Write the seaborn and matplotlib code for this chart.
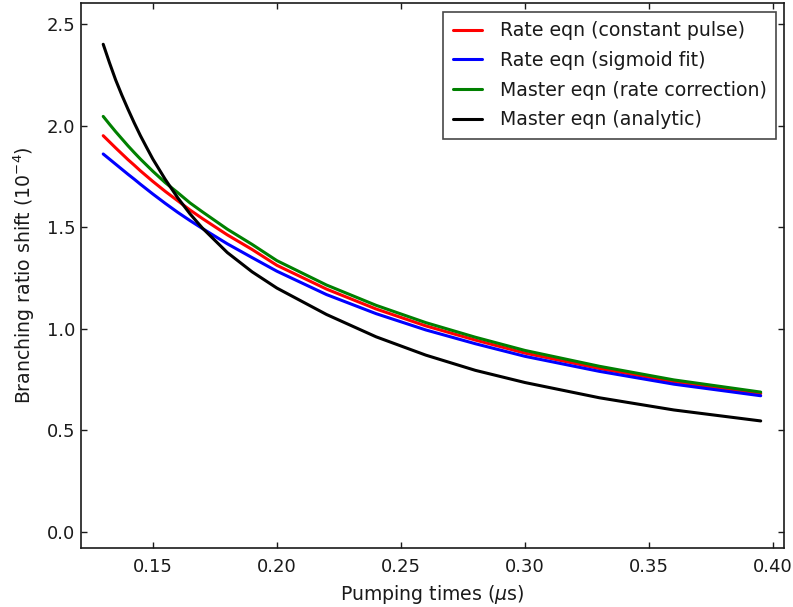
import numpy as np
import pandas as pd
import matplotlib
matplotlib.use("Agg")
import matplotlib.pyplot as plt
import seaborn as sns

# Pumping times (µs)
times = [0.13, 0.1325, 0.135, 0.1375, 0.14, 0.1425, 0.145, 0.1475, 0.15, 0.155,
         0.16, 0.165, 0.17, 0.18, 0.19, 0.20, 0.22, 0.24, 0.26, 0.28,
         0.30, 0.33, 0.36, 0.395]

rate_constant = [1.950, 1.920, 1.890, 1.861, 1.832, 1.805, 1.777, 1.751, 1.725, 1.676,
                 1.630, 1.584, 1.542, 1.462, 1.390, 1.312, 1.195, 1.097, 1.014, 0.944,
                 0.880, 0.804, 0.739, 0.681]
rate_sigmoid = [1.860, 1.835, 1.810, 1.785, 1.760, 1.736, 1.711, 1.687, 1.663, 1.617,
                1.573, 1.532, 1.493, 1.418, 1.350, 1.283, 1.168, 1.074, 0.994, 0.926,
                0.864, 0.790, 0.727, 0.670]
master_rate = [2.045, 2.007, 1.970, 1.935, 1.900, 1.867, 1.835, 1.805, 1.775, 1.719,
               1.670, 1.619, 1.575, 1.490, 1.415, 1.335, 1.215, 1.115, 1.030, 0.958,
               0.893, 0.815, 0.748, 0.688]
master_analytic = [2.400, 2.310, 2.225, 2.150, 2.080, 2.013, 1.950, 1.892, 1.835, 1.735,
                   1.645, 1.565, 1.495, 1.375, 1.280, 1.200, 1.070, 0.960, 0.870, 0.795,
                   0.735, 0.660, 0.600, 0.546]

labels = ["Rate eqn (constant pulse)", "Rate eqn (sigmoid fit)",
          "Master eqn (rate correction)", "Master eqn (analytic)"]
colors = ["#ff0000", "#0000ff", "#008000", "#000000"]
series = [rate_constant, rate_sigmoid, master_rate, master_analytic]

frames = []
for lab, vals in zip(labels, series):
    frames.append(pd.DataFrame({"t": times, "shift": vals, "model": lab}))
df = pd.concat(frames, ignore_index=True)

sns.set_style("white")
plt.rcParams["font.family"] = ["DejaVu Sans"]
plt.rcParams.update({
    "xtick.direction": "in", "ytick.direction": "in",
    "xtick.top": True, "ytick.right": True,
    "xtick.bottom": True, "ytick.left": True,
    "text.color": "#1a1a1a", "axes.labelcolor": "#1a1a1a",
})

fig = plt.figure(figsize=(7.93, 6.07), dpi=100)
ax = fig.add_axes([0.102, 0.097, 0.887, 0.898])

sns.lineplot(data=df, x="t", y="shift", hue="model", hue_order=labels,
             palette=dict(zip(labels, colors)), linewidth=2.2, ax=ax,
             sort=False, estimator=None)

ax.set_xlim(0.121, 0.4045)
ax.set_ylim(-0.08, 2.603)
ax.set_xticks([0.15, 0.20, 0.25, 0.30, 0.35, 0.40])
ax.set_xticklabels(["0.15", "0.20", "0.25", "0.30", "0.35", "0.40"])
ax.set_yticks([0.0, 0.5, 1.0, 1.5, 2.0, 2.5])
ax.set_yticklabels(["0.0", "0.5", "1.0", "1.5", "2.0", "2.5"])
ax.tick_params(labelsize=13, colors="#1a1a1a", width=1, length=4.5)
ax.tick_params(axis="x", pad=7)
ax.tick_params(axis="y", pad=4)
for s in ax.spines.values():
    s.set_color("#1a1a1a")
    s.set_linewidth(1.2)

ax.set_xlabel(r"Pumping times ($\mu$s)", fontsize=13.6, labelpad=5)
ax.set_ylabel(r"Branching ratio shift ($10^{-4}$)", fontsize=13.6, labelpad=7)

leg = ax.legend(loc="upper right", fontsize=13.6, frameon=True, fancybox=False,
                edgecolor="#1a1a1a", handlelength=1.55, handletextpad=0.95,
                borderpad=0.5, labelspacing=0.56, borderaxespad=0,
                bbox_to_anchor=(0.9886, 0.9835))
leg.get_frame().set_linewidth(1.2)

fig.savefig("out.png", dpi=100)
